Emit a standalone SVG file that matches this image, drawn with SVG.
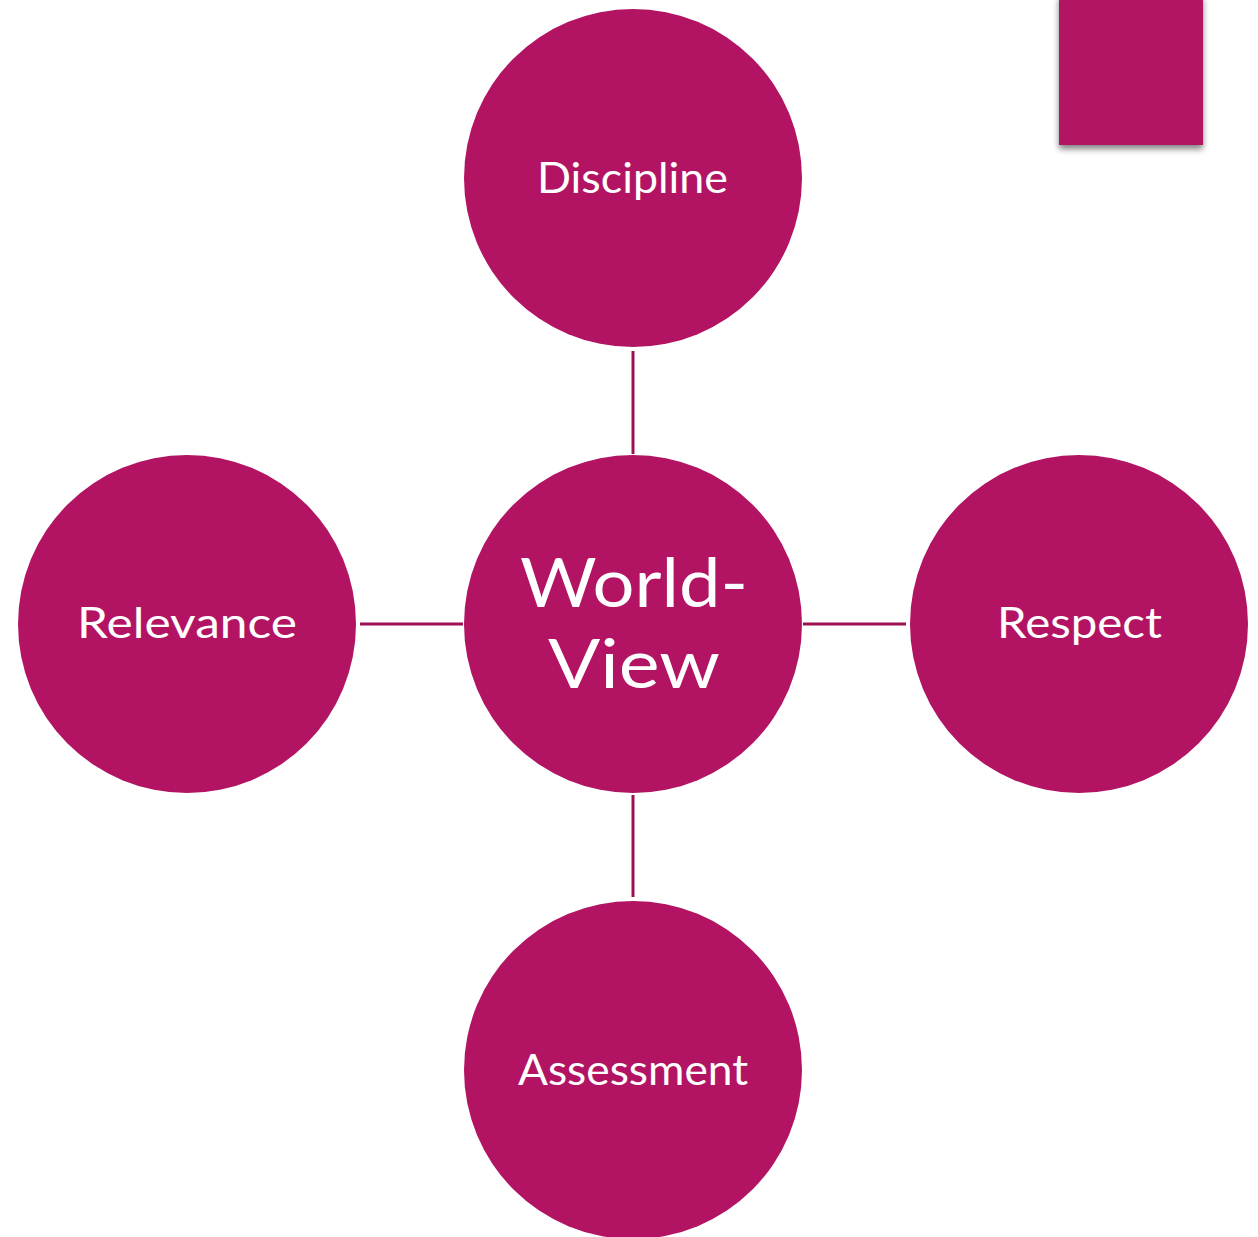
<svg xmlns="http://www.w3.org/2000/svg" width="1258" height="1237" viewBox="0 0 1258 1237">
<style>
.node{fill:#B21463}
.lbl{fill:#ffffff;font-family:Lato,"Noto Sans","DejaVu Sans",sans-serif;font-weight:400;font-size:42px;text-anchor:middle}
.big{font-size:67px}
.conn{stroke:#9E1054;stroke-width:3;fill:none}
</style>
<defs>
<filter id="sh" x="-20%" y="-20%" width="140%" height="140%">
<feGaussianBlur in="SourceAlpha" stdDeviation="3"/>
<feOffset dx="0" dy="4"/>
<feComponentTransfer><feFuncA type="linear" slope="0.5"/></feComponentTransfer>
<feMerge><feMergeNode/><feMergeNode in="SourceGraphic"/></feMerge>
</filter>
</defs>
<rect x="0" y="0" width="1258" height="1237" fill="#ffffff"/>
<rect x="1059" y="-5" width="144" height="150" class="node" filter="url(#sh)"/>
<g id="connectors">
<line class="conn" x1="633" y1="351" x2="633" y2="454"/>
<line class="conn" x1="633" y1="795" x2="633" y2="897"/>
<line class="conn" x1="360" y1="624" x2="463" y2="624"/>
<line class="conn" x1="803" y1="624" x2="906" y2="624"/>
</g>
<g id="worldview">
<circle class="node" cx="633" cy="624" r="169"/>
<text class="lbl big" x="634" y="607" textLength="228" lengthAdjust="spacingAndGlyphs">World-</text>
<text class="lbl big" x="634" y="688" textLength="172" lengthAdjust="spacingAndGlyphs">View</text>
</g>
<g id="discipline">
<circle class="node" cx="633" cy="178" r="169"/>
<text class="lbl" x="632.5" y="193" textLength="191" lengthAdjust="spacingAndGlyphs">Discipline</text>
</g>
<g id="relevance">
<circle class="node" cx="187" cy="624" r="169"/>
<text class="lbl" x="187" y="638" textLength="220" lengthAdjust="spacingAndGlyphs">Relevance</text>
</g>
<g id="respect">
<circle class="node" cx="1079" cy="624" r="169"/>
<text class="lbl" x="1079.5" y="638" textLength="165" lengthAdjust="spacingAndGlyphs">Respect</text>
</g>
<g id="assessment">
<circle class="node" cx="633" cy="1070" r="169"/>
<text class="lbl" x="633" y="1085" textLength="230" lengthAdjust="spacingAndGlyphs">Assessment</text>
</g>
</svg>
